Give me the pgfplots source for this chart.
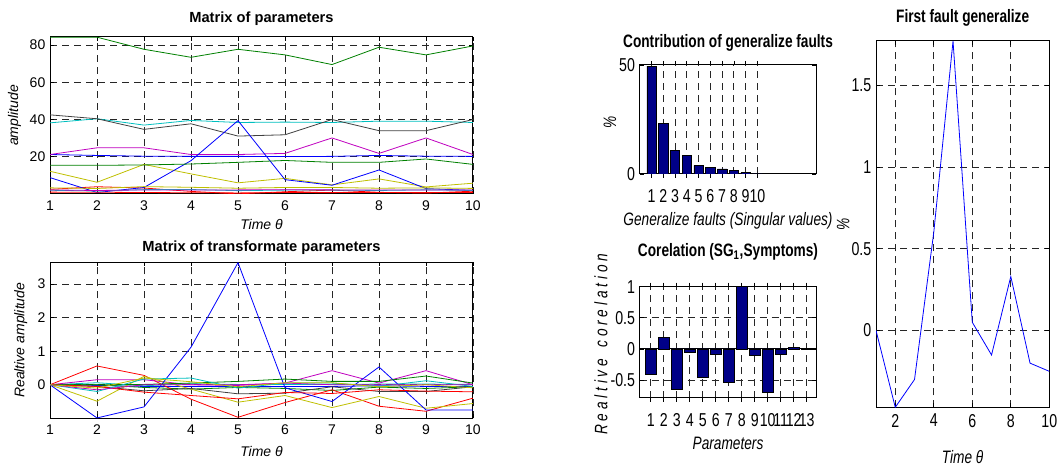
\documentclass[border=0pt]{standalone}
\usepackage{fontspec}
\setmainfont{Liberation Sans}
\newfontfamily\narrowsf[FakeStretch=0.76]{Liberation Sans}
\usepackage{pgfplots}
\usepackage{pgfplotstable}
\pgfplotsset{compat=1.18}

% MATLAB-style line colours
\definecolor{mblue}{RGB}{0,0,255}
\definecolor{mgreen}{RGB}{0,128,0}
\definecolor{mred}{RGB}{255,0,0}
\definecolor{mcyan}{RGB}{0,191,191}
\definecolor{mmagenta}{RGB}{191,0,191}
\definecolor{myellow}{RGB}{191,191,0}
\definecolor{mgray}{RGB}{64,64,64}
\definecolor{barblue}{RGB}{0,0,135}

% Raw parameters over time (13 parameters)
\pgfplotstableread{
t  p1   p2   p3   p4   p5   p6   p7   p8   p9   p10  p11  p12  p13
1  21.2 84.2 2.5  38.2 21.2 12.2 42.5 8.8  15.4 1.00 2.00 2.20 3.30
2  20.7 84.2 3.9  40.4 24.8 6.3  40.4 0.8  15.4 0.95 1.60 1.87 2.97
3  20.3 77.7 3.2  37.0 24.8 15.9 34.7 3.5  15.6 0.78 2.34 2.20 3.96
4  20.2 73.4 1.4  39.5 21.2 10.8 37.7 17.9 16.1 0.68 2.40 2.20 3.60
5  20.2 77.7 0.08 38.4 21.2 6.0  31.1 39.4 17.0 0.58 1.80 2.20 3.10
6  20.1 74.7 1.2  38.6 21.8 8.4  31.8 7.7  18.0 0.77 2.10 2.30 3.50
7  20.2 69.5 2.1  38.4 30.1 4.9  40.0 4.7  17.0 0.74 2.10 2.20 3.50
8  20.7 78.8 0.9  39.1 21.8 8.1  34.0 12.9 17.0 0.85 1.90 2.20 3.10
9  20.3 74.7 0.5  39.1 30.1 3.8  34.0 2.9  18.8 0.81 2.24 2.20 3.30
10 20.2 79.5 1.5  38.4 21.2 5.8  40.0 1.9  15.9 0.79 1.90 2.20 3.00
}\paramtable

% Parameters relative to their first sample
\pgfplotstableread{
t  p1    p2    p3    p4    p5    p6    p7    p8    p9   p10   p11   p12   p13
1  0     0     0     0     0     0     0     0     0    0     0     0     0
2  -0.02 0     0.56  0.06  0.15  -0.49 -0.05 -0.99 0    -0.05 -0.20 -0.15 -0.10
3  -0.05 -0.08 0.28  -0.03 0.15  0.25  -0.18 -0.66 0.01 -0.22 0.17  0     0.20
4  -0.05 -0.13 -0.43 0.03  0     -0.13 -0.11 1.12  0.05 -0.32 0.20  0     0.09
5  -0.05 -0.08 -0.97 0.01  -0.02 -0.52 -0.27 3.64  0.10 -0.42 -0.10 0     -0.06
6  -0.05 -0.11 -0.53 0.01  0.05  -0.32 -0.25 -0.09 0.17 -0.23 0.05  0.05  0.06
7  -0.05 -0.17 -0.15 0.01  0.42  -0.68 -0.06 -0.50 0.10 -0.26 0.05  0     0.06
8  -0.03 -0.07 -0.64 0.02  0.05  -0.35 -0.20 0.53  0.10 -0.15 -0.05 0     -0.06
9  -0.05 -0.11 -0.79 0.02  0.42  -0.70 -0.20 -0.75 0.26 -0.19 0.12  0     0
10 -0.05 -0.06 -0.40 0.01  0     -0.56 -0.06 -0.75 0.05 -0.21 -0.05 0     -0.09
}\reltable

% Share of each singular value (%)
\pgfplotstableread{
k  v
1  49.5
2  23.2
3  10.9
4  8.6
5  4.0
6  3.2
7  2.3
8  1.5
9  0.8
10 0.1
}\contribtable

% Correlation of the first generalized fault with each parameter
\pgfplotstableread{
k  r
1  -0.41
2  0.19
3  -0.65
4  -0.05
5  -0.46
6  -0.08
7  -0.54
8  1.00
9  -0.11
10 -0.70
11 -0.08
12 0.03
13 0.005
}\corrtable

% First generalized fault over time
\pgfplotstableread{
t  f
1  0
2  -0.47
3  -0.30
4  0.60
5  1.77
6  0.05
7  -0.15
8  0.33
9  -0.20
10 -0.25
}\faulttable

\pgfplotsset{
  matgrid/.style={
    grid style={dash pattern=on 5.25pt off 3.75pt, black!85, line width=0.6pt},
    axis line style={black, line width=0.75pt},
    tick style={black, line width=0.5pt},
    tick align=inside, major tick length=3pt,
    /pgf/number format/assume math mode=true,
    scale only axis, anchor=north west,
  },
  leftaxis/.style={
    matgrid, width=317.25pt,
    xmin=1, xmax=10, xtick={1,...,10}, grid=major,
    ticklabel style={font=\fontsize{10.5}{12}\selectfont},
    xticklabel style={yshift=-1.5pt},
    label style={font=\fontsize{10.5}{12}\selectfont\itshape},
    title style={font=\fontsize{11}{13}\selectfont\bfseries, at={(0.5,1)}, anchor=base},
    xlabel={Time θ},
  },
  rightaxis/.style={
    matgrid, width=132.45pt,
    ticklabel style={font=\narrowsf\fontsize{14}{16}\selectfont},
    label style={font=\narrowsf\fontsize{13.5}{15}\selectfont\itshape},
    title style={font=\narrowsf\fontsize{13.5}{15}\selectfont\bfseries, at={(0.5,1)}, anchor=base},
  },
  ln/.style={#1, no markers, line width=0.6pt},
}

\begin{document}
\begin{tikzpicture}

% ---- raw parameters ----
\begin{axis}[leftaxis, at={(37.5pt,323.25pt)}, height=117.75pt,
  ymin=0, ymax=84.3, ytick={20,40,60,80},
  ylabel={amplitude},
  ylabel style={at={(axis description cs:-0.084,0.5)}, anchor=center},
  xlabel style={at={(axis description cs:0.5,0)}, anchor=base, yshift=-27pt},
  title={Matrix of parameters}, title style={yshift=4.5pt}]
\addplot[ln=mblue]    table[x=t,y=p1]{\paramtable};
\addplot[ln=mgreen]   table[x=t,y=p2]{\paramtable};
\addplot[ln=mred]     table[x=t,y=p3]{\paramtable};
\addplot[ln=mcyan]    table[x=t,y=p4]{\paramtable};
\addplot[ln=mmagenta] table[x=t,y=p5]{\paramtable};
\addplot[ln=myellow]  table[x=t,y=p6]{\paramtable};
\addplot[ln=mgray]    table[x=t,y=p7]{\paramtable};
\addplot[ln=mblue]    table[x=t,y=p8]{\paramtable};
\addplot[ln=mgreen]   table[x=t,y=p9]{\paramtable};
\addplot[ln=mred]     table[x=t,y=p10]{\paramtable};
\addplot[ln=mcyan]    table[x=t,y=p11]{\paramtable};
\addplot[ln=mmagenta] table[x=t,y=p12]{\paramtable};
\addplot[ln=myellow]  table[x=t,y=p13]{\paramtable};
\end{axis}

% ---- relative parameters ----
\begin{axis}[leftaxis, at={(37.5pt,154.275pt)}, height=117pt,
  ymin=-1, ymax=3.65, ytick={0,1,2,3},
  ylabel={Realtive amplitude},
  ylabel style={at={(axis description cs:-0.069,0.5)}, anchor=center},
  xlabel style={at={(axis description cs:0.5,0)}, anchor=base, yshift=-28.5pt},
  title={Matrix of transformate parameters}, title style={yshift=2.25pt}]
\addplot[ln=mblue]    table[x=t,y=p1]{\reltable};
\addplot[ln=mgreen]   table[x=t,y=p2]{\reltable};
\addplot[ln=mred]     table[x=t,y=p3]{\reltable};
\addplot[ln=mcyan]    table[x=t,y=p4]{\reltable};
\addplot[ln=mmagenta] table[x=t,y=p5]{\reltable};
\addplot[ln=myellow]  table[x=t,y=p6]{\reltable};
\addplot[ln=mgray]    table[x=t,y=p7]{\reltable};
\addplot[ln=mblue]    table[x=t,y=p8]{\reltable};
\addplot[ln=mgreen]   table[x=t,y=p9]{\reltable};
\addplot[ln=mred]     table[x=t,y=p10]{\reltable};
\addplot[ln=mcyan]    table[x=t,y=p11]{\reltable};
\addplot[ln=mmagenta] table[x=t,y=p12]{\reltable};
\addplot[ln=myellow]  table[x=t,y=p13]{\reltable};
\end{axis}

% ---- contribution of singular values ----
\begin{axis}[rightaxis, at={(479.775pt,302.25pt)}, height=81.75pt,
  xmin=0, xmax=15, ymin=0, ymax=50,
  xtick={1,...,10}, ytick={0,50}, xmajorgrids,
  xticklabel style={yshift=-5pt},
  ybar, bar width=0.8,
  ylabel={\%},
  ylabel style={at={(axis description cs:-0.168,0.47)}, anchor=center},
  xlabel={Generalize faults (Singular values)},
  xlabel style={at={(axis description cs:0.5,0)}, anchor=base, yshift=-39pt},
  title={Contribution of generalize faults}, title style={yshift=6.75pt}]
\addplot[fill=barblue, draw=black, line width=0.4pt] table[x=k,y=v]{\contribtable};
\end{axis}

% ---- correlation with symptoms ----
\begin{axis}[rightaxis, at={(479.775pt,135.975pt)}, height=83.25pt,
  xmin=0.15, xmax=13.74, ymin=-0.785, ymax=1,
  xtick={1,...,13}, ytick={-0.5,0,0.5,1}, yticklabels={-0.5,0,0.5,1},
  grid=major,
  extra y ticks={0}, extra y tick labels={},
  extra y tick style={major grid style={solid, black, line width=0.6pt}, major tick length=0pt},
  xticklabel style={yshift=-5.5pt},
  ybar, bar width=0.8,
  ylabel={R e a l t i v e \ \ c o r e l a t i o n},
  ylabel style={at={(axis description cs:-0.219,0.48)}, anchor=center},
  xlabel={Parameters},
  xlabel style={at={(axis description cs:0.5,0)}, anchor=base, yshift=-39pt},
  title={Corelation (SG\textsubscript{1},Symptoms)}, title style={yshift=16.5pt}]
\addplot[fill=barblue, draw=black, line width=0.4pt] table[x=k,y=r]{\corrtable};
\end{axis}

% ---- first generalized fault ----
\begin{axis}[rightaxis, at={(657pt,320.25pt)}, width=129.975pt, height=274.725pt,
  xmin=1, xmax=10, ymin=-0.47, ymax=1.77,
  xtick={2,4,6,8,10}, ytick={0,0.5,1,1.5}, grid=major,
  xticklabel style={yshift=-1.5pt},
  ylabel={\%},
  ylabel style={at={(axis description cs:-0.19,0.5)}, anchor=center},
  xlabel={Time θ},
  xlabel style={at={(axis description cs:0.5,0)}, anchor=base, yshift=-42pt},
  title={First fault generalize}, title style={yshift=7.5pt}]
\addplot[ln=mblue] table[x=t,y=f]{\faulttable};
\end{axis}

\pgfresetboundingbox
\path[use as bounding box] (0,0) rectangle (794.25pt,351pt);
\end{tikzpicture}
\end{document}
